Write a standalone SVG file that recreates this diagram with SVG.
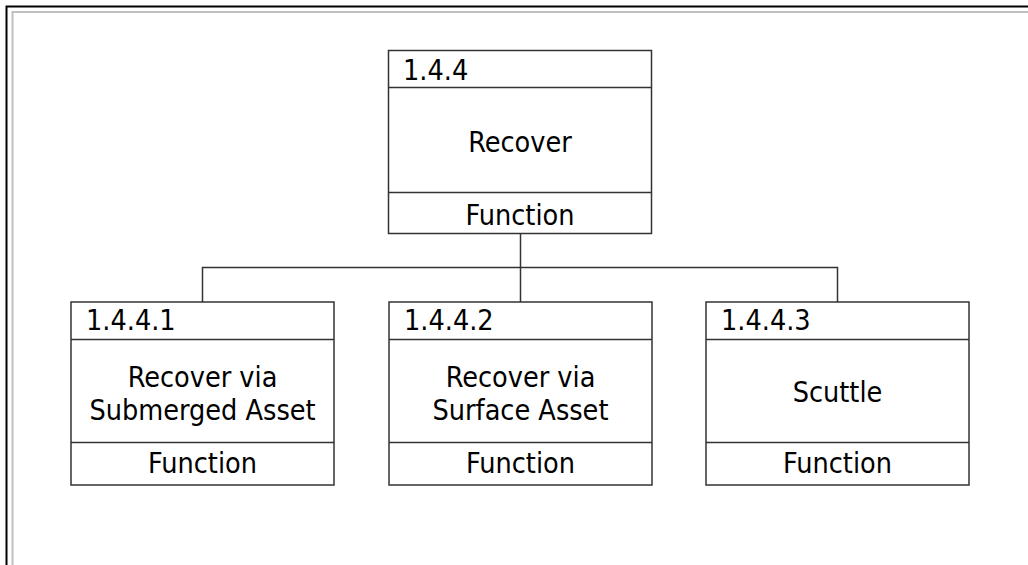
<svg xmlns="http://www.w3.org/2000/svg" width="1028" height="565" viewBox="0 0 1028 565">
<style>
.box{fill:#fff;stroke:#333;stroke-width:1.5}
.div{stroke:#333;stroke-width:1.5}
.conn{fill:none;stroke:#333;stroke-width:1.5}
text{font-family:"DejaVu Sans Condensed","DejaVu Sans",sans-serif;font-stretch:condensed;font-size:28.5px;fill:#000}
.c{text-anchor:middle}
</style>
<rect width="1028" height="565" fill="#fff"/>
<g id="frame">
<path d="M6.5,565 V6.5 H1028" fill="none" stroke="#000" stroke-width="2"/>
<path d="M12.5,565 V12 H1028" fill="none" stroke="#c0c0c0" stroke-width="2"/>
</g>
<g id="connectors">
<path class="conn" d="M520.5,234 V302"/>
<path class="conn" d="M202.5,302 V267.5 H837.5 V302"/>
</g>
<g id="n144">
<rect class="box" x="388.5" y="50.5" width="263" height="183"/>
<line class="div" x1="388.5" y1="87.5" x2="651.5" y2="87.5"/>
<line class="div" x1="388.5" y1="192.5" x2="651.5" y2="192.5"/>
<text x="403" y="80">1.4.4</text>
<text class="c" x="520" y="152">Recover</text>
<text class="c" x="520" y="225">Function</text>
</g>
<g id="n1441">
<rect class="box" x="71" y="302" width="263" height="183"/>
<line class="div" x1="71" y1="339.5" x2="334" y2="339.5"/>
<line class="div" x1="71" y1="442.5" x2="334" y2="442.5"/>
<text x="86" y="330">1.4.4.1</text>
<text class="c" x="202.5" y="387">Recover via</text>
<text class="c" x="202.5" y="420">Submerged Asset</text>
<text class="c" x="202.5" y="473">Function</text>
</g>
<g id="n1442">
<rect class="box" x="389" y="302" width="263" height="183"/>
<line class="div" x1="389" y1="339.5" x2="652" y2="339.5"/>
<line class="div" x1="389" y1="442.5" x2="652" y2="442.5"/>
<text x="404" y="330">1.4.4.2</text>
<text class="c" x="520.5" y="387">Recover via</text>
<text class="c" x="520.5" y="420">Surface Asset</text>
<text class="c" x="520.5" y="473">Function</text>
</g>
<g id="n1443">
<rect class="box" x="706" y="302" width="263" height="183"/>
<line class="div" x1="706" y1="339.5" x2="969" y2="339.5"/>
<line class="div" x1="706" y1="442.5" x2="969" y2="442.5"/>
<text x="721" y="330">1.4.4.3</text>
<text class="c" x="837.5" y="402">Scuttle</text>
<text class="c" x="837.5" y="473">Function</text>
</g>
</svg>
